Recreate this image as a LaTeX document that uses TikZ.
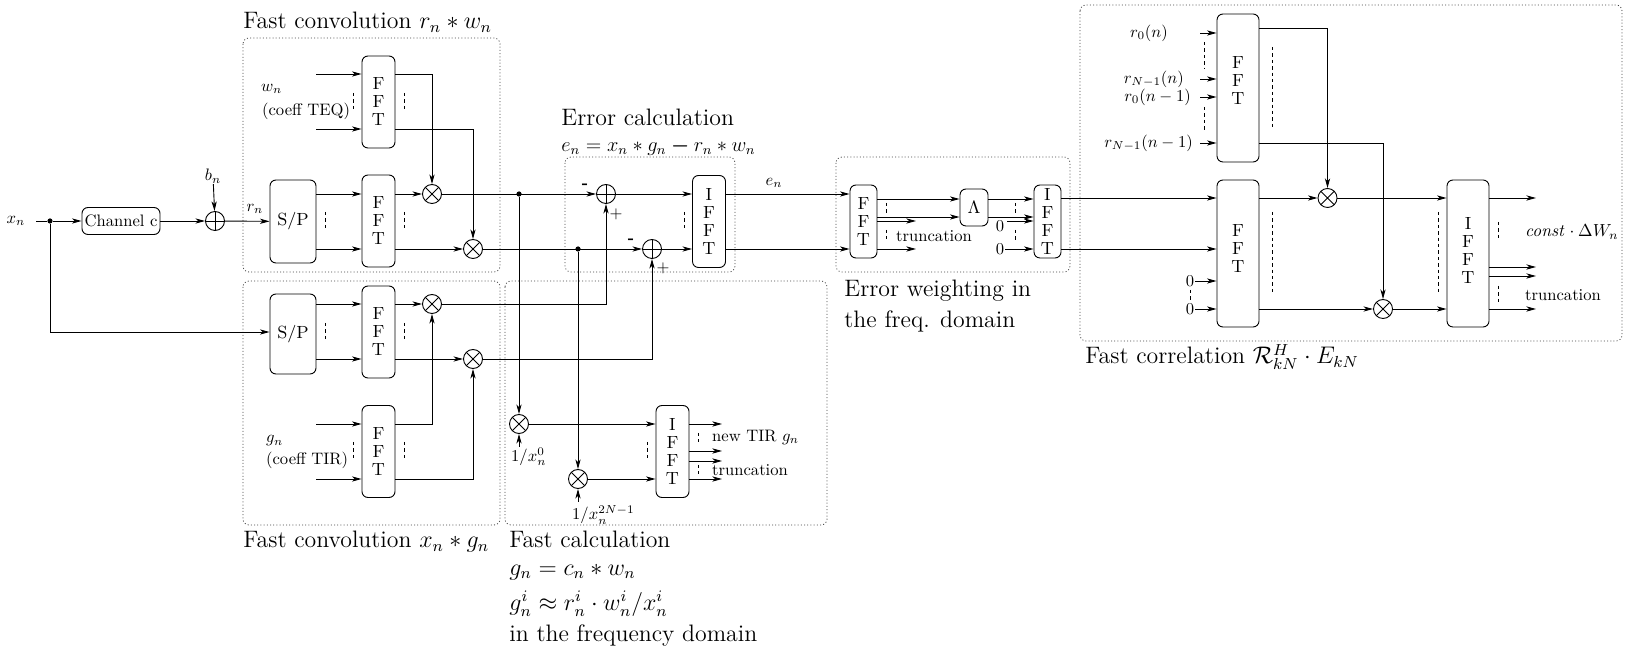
\documentclass[tikz,border=0pt]{standalone}
\usepackage{amsmath}
\usepackage{amssymb}
\usetikzlibrary{arrows.meta,calc}
\newcommand{\boxfont}{\fontsize{8.8}{9}\selectfont}
\newcommand{\headfont}{\fontsize{11.9}{14}\selectfont}
\tikzset{
	sig/.style={line width=.45pt,-{Stealth[length=4.8pt,width=2.6pt,inset=1.3pt]}},
	wire/.style={line width=.45pt},
	block/.style={draw,line width=.45pt,rounded corners=3pt,fill=white,align=center,inner sep=0pt,font=\boxfont},
	fftbox/.style={block,minimum width=16.5pt,minimum height=46pt},
	fftwide/.style={block,minimum width=21pt,minimum height=73.5pt},
	spbox/.style={block,minimum width=23pt,minimum height=40pt},
	weightbox/.style={block,minimum width=13.5pt,minimum height=36.5pt},
	stacktext/.style={font=\boxfont,align=center,inner sep=0pt},
	mult/.style={circle,draw,line width=.45pt,fill=white,minimum size=9.5pt,inner sep=0pt,
		path picture={\draw[line width=.45pt] (path picture bounding box.north west) -- (path picture bounding box.south east)
			(path picture bounding box.north east) -- (path picture bounding box.south west);}},
	summ/.style={circle,draw,line width=.45pt,fill=white,minimum size=9.5pt,inner sep=0pt,
		path picture={\draw[line width=.45pt] (path picture bounding box.north) -- (path picture bounding box.south)
			(path picture bounding box.east) -- (path picture bounding box.west);}},
	joint/.style={circle,fill=black,minimum size=2.6pt,inner sep=0pt},
	lab/.style={scale=.83,inner sep=.5pt},
	laba/.style={lab,anchor=west},
	head/.style={font=\headfont,anchor=west,inner sep=0pt},
	dotbox/.style={line width=.4pt,black!75,dash pattern=on .5pt off 1.1pt,rounded corners=3pt},
	ticks/.style={line width=.35pt,dash pattern=on 1.7pt off 1.5pt},
}
\begin{document}
\begin{tikzpicture}[x=.5pt,y=-.5pt]
	\useasboundingbox (0,0) rectangle (1627,651);
	\foreach \xa/\ya/\xb/\yb in {243/38/500/272, 243/281/500/525, 505/281/827/525, 565/157/735/272, 836/157/1070/272, 1080/5/1622/341}
		\draw[dotbox] (\xa,\ya) rectangle (\xb,\yb);
	\foreach \n/\y in {rowA/74, rowB/129, rowC/194, rowD/249, rowE/304, rowF/359, rowG/424, rowH/479, rowJ/198, rowK/309, rowL/199, rowM/217, rowP/28, rowQ/143, rowX/332}
		\coordinate (\n) at (0,\y);
	\node[lab] (xlab) at (16,221) {$x_n$};
	\coordinate (xstart) at (36,221);
	\node[joint] (xdot) at (50,221) {};
	\node[block,minimum width=39pt,minimum height=13.5pt] (chan) at (121,221) {\scalebox{.83}{\normalsize Channel c}};
	\node[summ] (sumIn) at (215,221) {};
	\node[lab] (blab) at (213,176) {$b_n$};
	\node[lab] (rlab) at (255,209) {$r_n$};
	\node[spbox,minimum height=41.5pt] (spA) at (293,221.5) {S/P};
	\node[spbox] (spB) at (293,334) {S/P};
	\node[fftbox] (fftA) at (378.5,102) {F\\F\\T};
	\node[fftbox] (fftB) at (378.5,221) {F\\F\\T};
	\node[fftbox] (fftC) at (378.5,332) {F\\F\\T};
	\node[fftbox] (fftD) at (378.5,451.5) {F\\F\\T};
	\node[mult] (mulA) at (432,194) {};
	\node[mult] (mulB) at (473,249) {};
	\node[mult] (mulC) at (432,304) {};
	\node[mult] (mulD) at (473,359) {};
	\node[joint] (dotA) at (519,194) {};
	\node[joint] (dotB) at (578,249) {};
	\node[summ] (sumA) at (606,194) {};
	\node[summ] (sumB) at (652,249) {};
	\node[fftbox] (ifftA) at (709,221.5) {I\\F\\F\\T};
	\node[mult] (mulE) at (519,424) {};
	\node[mult] (mulF) at (578,479) {};
	\node[fftbox] (ifftB) at (672.5,451.5) {I\\F\\F\\T};
	\node[weightbox] (fftE) at (863.5,221.5) {F\\F\\T};
	\node[block,minimum width=14pt,minimum height=18.5pt] (lam) at (974,207.5) {$\Lambda$};
	\node[weightbox] (ifftE) at (1047.5,221.5) {I\\F\\F\\T};
	\node[lab] (zeroA) at (1000,226) {0};
	\coordinate (zeroAout) at (1007,221);
	\node[lab] (zeroB) at (1000,249) {0};
	\node[fftwide,minimum height=74pt,label={[stacktext,yshift=3.5pt]center:F\\F\\T}] (fftF) at (1238,88) {};
	\node[fftwide,label={[stacktext,yshift=2.5pt]center:F\\F\\T}] (fftG) at (1238,253.5) {};
	\node[fftwide,label={[stacktext,yshift=1.5pt]center:I\\F\\F\\T}] (ifftF) at (1468,253.5) {};
	\node[mult] (mulH) at (1327.5,198) {};
	\node[mult] (mulJ) at (1383,309) {};
	\node[lab] (zeroC) at (1190,281) {0};
	\node[lab] (zeroD) at (1190,309) {0};
	\foreach \n/\x/\y in {inA/316/74, inB/316/129, inC/316/424, inD/316/479, invA/519/447, invB/578/502, truncA/916/221, truncB/916/249, outA/722/424, outB/722/451, outC/722/461, outD/722/479, corrA/1200/33, corrB/1200/79, corrC/1200/97, corrD/1200/143, resA/1536/198, resB/1536/267, resC/1536/276, resD/1536/309}
		\coordinate (\n) at (\x,\y);
	\draw[wire] (xstart) -- (xdot);
	\draw[sig] (xdot) |- (spB.west |- rowX);
	\path[sig]
	(xdot) edge (chan)
	(chan) edge (sumIn)
	(sumIn) edge (spA)
	(blab) edge (sumIn);
	\foreach \from/\to/\row in {spA/fftB/rowC, spA/fftB/rowD, fftB/mulA/rowC, fftB/mulB/rowD, mulA/sumA/rowC, mulB/sumB/rowD, sumA/ifftA/rowC, sumB/ifftA/rowD, ifftA/fftE/rowC, ifftA/fftE/rowD, spB/fftC/rowE, spB/fftC/rowF, fftC/mulC/rowE, fftC/mulD/rowF, mulE/ifftB/rowG, mulF/ifftB/rowH, fftE/lam/rowL, fftE/lam/rowM, lam/ifftE/rowL, lam/ifftE/rowM, ifftE/fftG/rowJ, ifftE/fftG/rowD, fftG/mulH/rowJ, mulH/ifftF/rowJ, fftG/mulJ/rowK, mulJ/ifftF/rowK}
		\draw[sig] (\from.east |- \row) -- (\to.west |- \row);
	\foreach \a/\b in {inA/fftA, inB/fftA, inC/fftD, inD/fftD, corrA/fftF, corrB/fftF, corrC/fftF, corrD/fftF, zeroAout/ifftE}
		\draw[sig] (\a) -- (\b.west |- \a);
	\foreach \b/\a in {fftE/truncA, fftE/truncB, ifftB/outA, ifftB/outB, ifftB/outC, ifftB/outD, ifftF/resA, ifftF/resB, ifftF/resC, ifftF/resD}
		\draw[sig] (\b.east |- \a) -- (\a);
	\draw[sig] (fftA.east |- rowA) -| (mulA);
	\draw[sig] (fftA.east |- rowB) -| (mulB);
	\draw[sig] (fftD.east |- rowG) -| (mulC);
	\draw[sig] (fftD.east |- rowH) -| (mulD);
	\draw[sig] (mulC) -| (sumA);
	\draw[sig] (mulD) -| (sumB);
	\draw[sig] (fftF.east |- rowP) -| (mulH);
	\draw[sig] (fftF.east |- rowQ) -| (mulJ);
	\path[sig]
	(dotA) edge (mulE)
	(dotB) edge (mulF)
	(invA) edge (mulE)
	(invB) edge (mulF)
	(zeroB) edge (ifftE.west |- zeroB)
	(zeroC) edge (fftG.west |- zeroC)
	(zeroD) edge (fftG.west |- zeroD);
	\foreach \x/\ya/\yb in {353/93/111, 404/93/111, 325/212/231, 404/212/231, 325/323/341, 404/323/341, 353/442/461, 404/442/461, 684/212/231, 647/442/461, 698/433/442, 698/465/474, 886/203/213, 886/230/239, 1015/203/213, 1015/230/240, 1204/42/68, 1204/107/132, 1272.5/47/130, 1272.5/212/295, 1190/290/300, 1438/212/295, 1498/222/240, 1498/286/304}
		\draw[ticks] (\x,\ya) -- (\x,\yb);
	\node[laba] (wlab) at (260,89) {$w_n$};
	\node[laba] (teq) at (261,111) {(coeff TEQ)};
	\node[laba] (glab) at (265,441) {$g_n$};
	\node[laba] (tir) at (265,460) {(coeff TIR)};
	\node[lab] (minA) at (585,186) {\textbf{-}};
	\node[lab] (minB) at (631,241) {\textbf{-}};
	\node[lab] (plusA) at (616,214) {$+$};
	\node[lab] (plusB) at (663,268) {$+$};
	\node[lab] (elab) at (774,183) {$e_n$};
	\node[laba] (invlabA) at (510,457) {$1/x_n^0$};
	\node[laba] (invlabB) at (571,515) {$1/x_n^{2N-1}$};
	\node[laba] (newtir) at (711,437) {new TIR $g_n$};
	\node[laba] (trunclabA) at (711,470) {truncation};
	\node[laba] (trunclabB) at (895,236) {truncation};
	\node[laba] (trunclabC) at (1524,295) {truncation};
	\node[laba,scale=1.05] (constlab) at (1524,232) {$\mathit{const}\cdot\Delta W_n$};
	\node[lab,anchor=east] (corrlabA) at (1169,33) {$r_0(n)$};
	\node[lab,anchor=east] (corrlabB) at (1185,79) {$r_{N-1}(n)$};
	\node[lab,anchor=east] (corrlabC) at (1192,97) {$r_0(n-1)$};
	\node[lab,anchor=east] (corrlabD) at (1194,143) {$r_{N-1}(n-1)$};
	\node[head] (headA) at (243,22) {Fast convolution $r_n * w_n$};
	\node[head] (headB) at (243,542) {Fast convolution $x_n * g_n$};
	\node[head] (headC) at (561,117) {Error calculation};
	\node[head,scale=.85] (headD) at (561,147) {$e_n = x_n * g_n \boldsymbol{-} r_n * w_n$};
	\node[head] (headE) at (844,291) {Error weighting in};
	\node[head] (headF) at (844,321) {the freq. domain};
	\node[head] (headG) at (1085,357) {Fast correlation $\mathcal{R}_{kN}^{H}\cdot E_{kN}$};
	\node[head] (headH) at (509,539) {Fast calculation};
	\node[head] (headJ) at (509,572) {$g_n = c_n * w_n$};
	\node[head] (headK) at (509,604) {$g_n^i \approx r_n^i\cdot w_n^i/x_n^i$};
	\node[head] (headL) at (509,636) {in the frequency domain};
\end{tikzpicture}
\end{document}
